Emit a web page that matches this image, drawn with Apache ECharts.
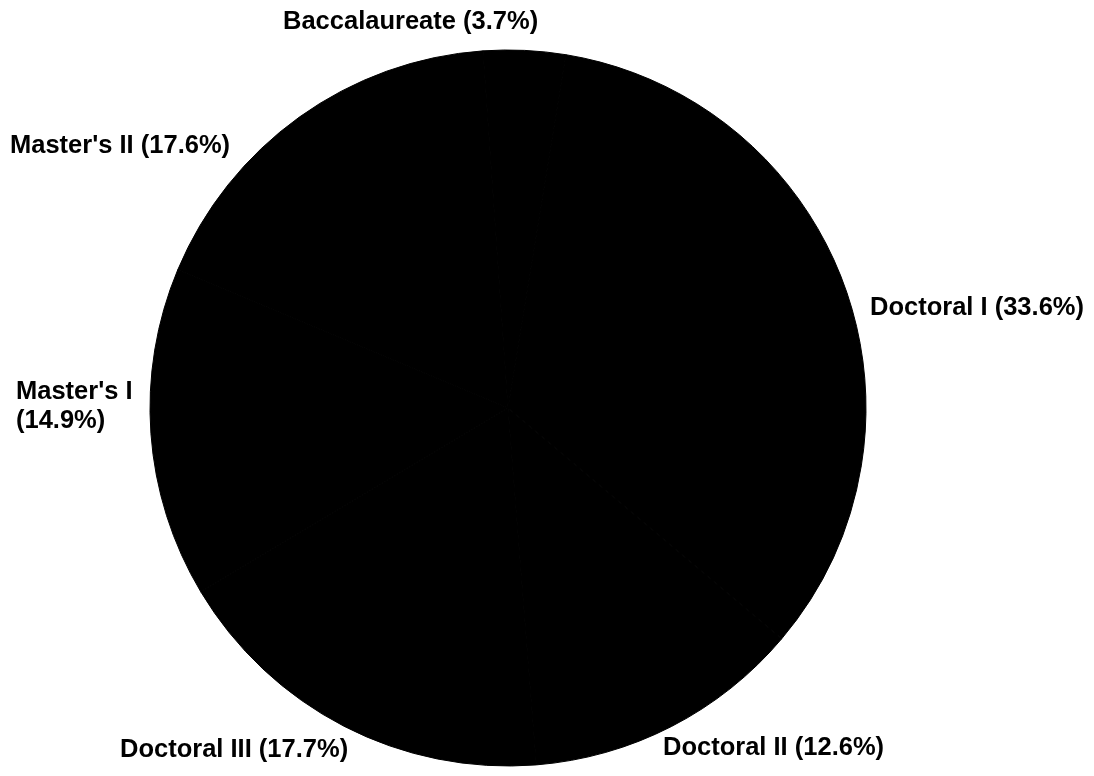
<!DOCTYPE html>
<html>
<head>
<meta charset="utf-8">
<style>
  html, body { margin: 0; padding: 0; background: #fff; }
  #chart { width: 1094px; height: 776px; }
</style>
<script src="https://cdn.jsdelivr.net/npm/echarts@6/dist/echarts.min.js"></script>
</head>
<body>
<div id="chart"></div>
<script>
// Share of institutions by Carnegie classification (percent)
const categories = ["Baccalaureate", "Doctoral I", "Doctoral II", "Doctoral III", "Master's I", "Master's II"];
const shares = [3.7, 33.6, 12.6, 17.7, 14.9, 17.6];

// Labels whose percentage goes on a second line
const wrapped = ["Master's I"];

// Label anchor points (left edge, vertical middle), in the same order as categories
const labelAnchors = [
  [283, 22],
  [870, 308],
  [663, 748],
  [120, 750],
  [16, 406],
  [10, 146]
];

const chart = echarts.init(document.getElementById('chart'), null, { renderer: 'canvas' });

chart.setOption({
  backgroundColor: '#ffffff',
  animation: false,
  series: [{
    type: 'pie',
    center: [508, 408],
    radius: [0, 358],
    startAngle: 94,
    clockwise: true,
    silent: true,
    // solid fill with a matching border so no seams show between slices
    itemStyle: { color: '#000000', borderColor: '#000000', borderWidth: 1 },
    label: {
      show: true,
      position: 'outside',
      color: '#000000',
      fontFamily: '"Liberation Sans", Arial, sans-serif',
      fontWeight: 'bold',
      fontSize: 25.5,
      lineHeight: 29,
      width: 400,
      overflow: 'none',
      formatter: p => p.name + (wrapped.includes(p.name) ? '\n' : ' ') + '(' + p.value + '%)'
    },
    labelLine: { show: false },
    labelLayout: params => {
      const a = labelAnchors[params.dataIndex];
      return { x: a[0], y: a[1], align: 'left', verticalAlign: 'middle', hideOverlap: false, moveOverlap: false };
    },
    data: categories.map((c, i) => ({ name: c, value: shares[i] }))
  }]
});
</script>
</body>
</html>
